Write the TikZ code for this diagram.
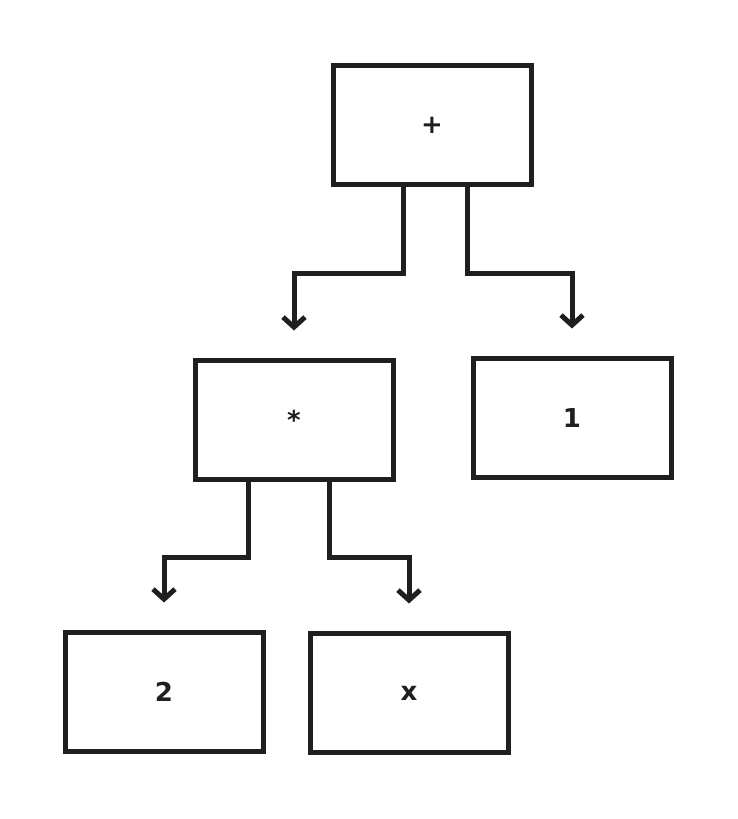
\documentclass[tikz,border=0pt]{standalone}
\usepackage{fontspec}
\setsansfont{DejaVu Sans}
\usetikzlibrary{arrows.meta,calc}

\tikzset{
  treebox/.style={draw=black!88, line width=5pt, minimum width=198pt, minimum height=119pt,
    font=\sffamily\bfseries\fontsize{26}{30}\selectfont, text=black!88},
  link/.style={draw=black!88, line width=5pt, -{Straight Barb[length=10pt,width=22pt,line width=5pt]}}
}

\begin{document}
\begin{tikzpicture}[x=1pt,y=1pt]
    \useasboundingbox (0,0) rectangle (737,819);
    % boxes of the tree
    \node[treebox] (plus) at (432,694) {+};
    \node[treebox] (mul) at (294,399) {*};
    \node[treebox] (one) at (572,401) {1};
    \node[treebox] (two) at (164,127) {2};
    \node[treebox] (xx) at (409,126) {x};

    % connectors
    \draw[link] ([xshift=-29pt]plus.south) -- ++(0,-86.5) -| ([yshift=27.5pt]mul.north);
    \draw[link] ([xshift=35pt]plus.south) -- ++(0,-86.5) -| ([yshift=27.5pt]one.north);
    \draw[link] ([xshift=-46pt]mul.south) -- ++(0,-75.5) -| ([yshift=27.5pt]two.north);
    \draw[link] ([xshift=35pt]mul.south) -- ++(0,-75.5) -| ([yshift=27.5pt]xx.north);
\end{tikzpicture}
\end{document}
